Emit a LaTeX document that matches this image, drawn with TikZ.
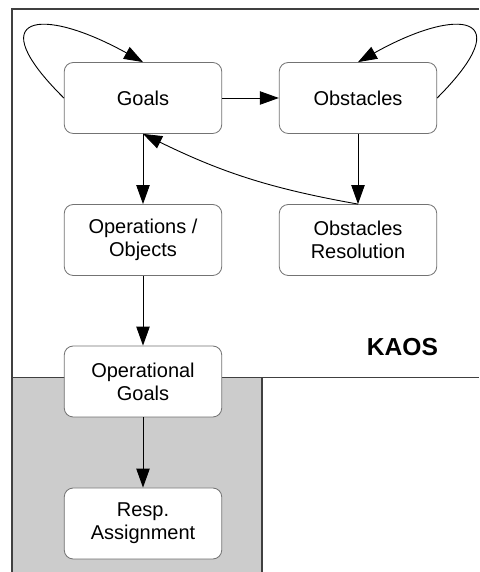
\documentclass[tikz,border=0pt]{standalone}
\usepackage{fontspec}
\setmainfont{Liberation Sans}
\usetikzlibrary{arrows.meta}

\begin{document}
\begin{tikzpicture}[x=0.5pt,y=0.5pt,
		box/.style={draw=black!55,fill=white,rounded corners=4.5pt,minimum width=78.75pt,minimum height=35.5pt,align=center,font=\fontsize{10}{11.5}\selectfont},
		conn/.style={line width=0.45pt,-{Triangle[length=9.5pt,width=6.7pt]}},
		frame/.style={black!75,line width=0.6pt}]
		\useasboundingbox (0,0) rectangle (479,572);
		\fill [gray!40] (12,0) rectangle (262,194.5);
		\draw [frame] (12,0) -- (12,563) -- (479,563);
		\draw [frame] (12,194.5) -- (479,194.5) (262,194.5) -- (262,0);
		\node [box] (goals) at (143,474) {Goals};
		\node [box] (obst) at (358,474) {Obstacles};
		\node [box] (ops) at (143,332) {Operations /\\Objects};
		\node [box] (obsres) at (358,332) {Obstacles\\Resolution};
		\node [box] (opgoals) at (143,190.5) {Operational\\Goals};
		\node [box] (resp) at (143,48.5) {Resp.\\Assignment};
		\node [font=\fontsize{12.3}{14}\selectfont\bfseries] (kaos) at (402.5,225) {KAOS};
		\foreach \a/\b in {goals/obst, goals/ops, obst/obsres, ops/opgoals, opgoals/resp}
			\draw [conn] (\a) -- (\b);
		\draw [conn] (obsres.north) to [bend left=8] (goals.south);
		\draw [conn] (goals.west) .. controls (-20,557) and (40,567) .. (goals.north);
		\draw [conn] (obst.east) .. controls (520,557) and (460,567) .. (obst.north);
	\end{tikzpicture}
\end{document}
